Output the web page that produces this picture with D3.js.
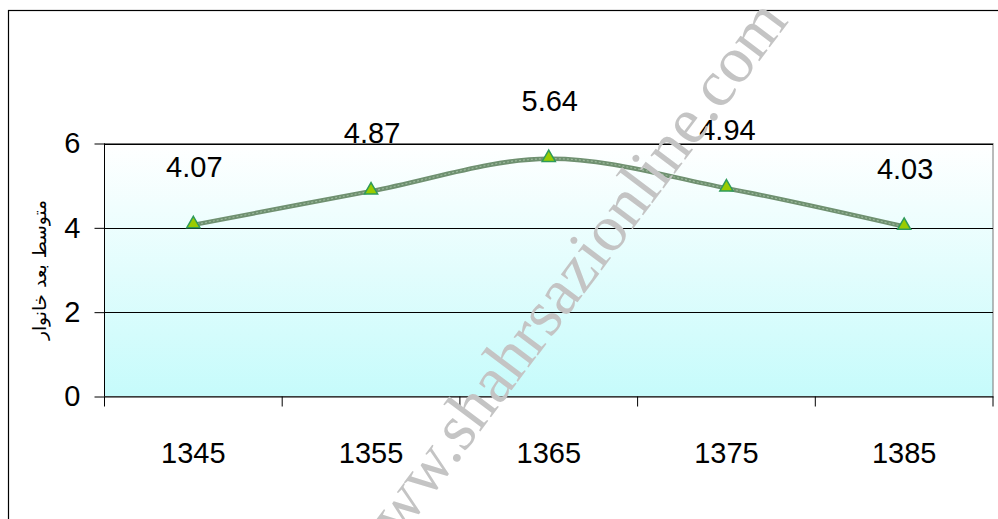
<!DOCTYPE html>
<html><head><meta charset="utf-8">
<script src="https://cdn.jsdelivr.net/npm/d3@7"></script>
<style>
html,body{margin:0;padding:0;background:#fff;overflow:hidden}
svg{display:block}
</style></head>
<body>
<script>
// ---- data ----
const categories = ["1345", "1355", "1365", "1375", "1385"];
const values = [4.07, 4.87, 5.64, 4.94, 4.03];
const valueLabels = ["4.07", "4.87", "5.64", "4.94", "4.03"];
const yTicks = [0, 2, 4, 6];
const yTitle = "متوسط بعد خانوار";
const watermark = "www.shahrsazionline.com";

const W = 998, H = 519;
const svg = d3.select("body").append("svg").attr("width", W).attr("height", H);
const font = "'Liberation Sans Narrow','Arial Narrow','Liberation Sans',sans-serif";

// chart frame
svg.append("rect").attr("x", 8.5).attr("y", 10.5).attr("width", 1000).attr("height", 520)
  .attr("fill", "#fff").attr("stroke", "#000").attr("stroke-width", 1.2);

const plot = {left: 104.5, right: 993, top: 143.5, bottom: 396.5};
const x = d3.scaleBand().domain(categories).range([plot.left, plot.right]).padding(0);
const y = d3.scaleLinear().domain([0, 6]).range([plot.bottom, plot.top]);

// gradient background
const defs = svg.append("defs");
const grad = defs.append("linearGradient").attr("id", "bg").attr("x1", 0).attr("y1", 0).attr("x2", 0).attr("y2", 1);
grad.append("stop").attr("offset", "0%").attr("stop-color", "#ffffff");
grad.append("stop").attr("offset", "100%").attr("stop-color", "#c6fbfb");
svg.append("rect").attr("x", plot.left).attr("y", plot.top)
  .attr("width", plot.right - plot.left).attr("height", plot.bottom - plot.top)
  .attr("fill", "url(#bg)").attr("stroke", "#777").attr("stroke-width", 1);

// gridlines
svg.append("g").selectAll("line").data(yTicks.filter(d => d > 0)).join("line")
  .attr("x1", plot.left).attr("x2", plot.right)
  .attr("y1", d => Math.round(y(d)) + 0.5).attr("y2", d => Math.round(y(d)) + 0.5)
  .attr("stroke", "#000").attr("stroke-width", 1);

// y axis
const yAxis = svg.append("g").attr("transform", `translate(${plot.left},0)`)
  .call(d3.axisLeft(y).tickValues(yTicks).tickSize(10).tickPadding(14).tickFormat(d3.format("d")));
yAxis.select(".domain").attr("stroke", "#000").attr("d", `M0,${plot.top}V${plot.bottom}`);
yAxis.selectAll(".tick line").attr("stroke", "#000");
yAxis.selectAll(".tick text").attr("font-family", font).attr("font-size", 29).attr("fill", "#000");

// x axis
const xAxis = svg.append("g").attr("transform", `translate(0,${plot.bottom})`)
  .call(d3.axisBottom(x).tickSize(0).tickPadding(46));
xAxis.select(".domain").attr("stroke", "#000");
xAxis.selectAll(".tick text").attr("font-family", font).attr("font-size", 29).attr("fill", "#000");
// category boundary ticks
const bounds = categories.map(c => x(c)).concat([plot.right]);
svg.append("g").selectAll("line").data(bounds).join("line")
  .attr("x1", d => d).attr("x2", d => d)
  .attr("y1", plot.bottom).attr("y2", plot.bottom + 10)
  .attr("stroke", "#000").attr("stroke-width", 1);

// y title
svg.append("text")
  .attr("transform", `translate(46,${(plot.top + plot.bottom) / 2}) rotate(-90)`)
  .attr("text-anchor", "middle").attr("font-family", "'DejaVu Sans',sans-serif")
  .attr("font-size", 18).attr("fill", "#000").attr("direction", "rtl")
  .attr("textLength", 140).attr("lengthAdjust", "spacingAndGlyphs").text(yTitle);

// line
const pts = values.map((v, i) => [x(categories[i]) + x.bandwidth() / 2, y(v)]);
const line = d3.line().curve(d3.curveCatmullRom.alpha(0.5));
svg.append("path").attr("d", line(pts)).attr("fill", "none")
  .attr("stroke", "#6f9070").attr("stroke-width", 4.5).attr("stroke-linecap", "round");
svg.append("path").attr("d", line(pts)).attr("fill", "none")
  .attr("stroke", "#9ab89a").attr("stroke-width", 1.2).attr("stroke-dasharray", "2,2");

// markers
const tri = d3.symbol().type(d3.symbolTriangle).size(75);
svg.append("g").selectAll("path").data(pts).join("path")
  .attr("transform", d => `translate(${d[0]},${d[1] - 1})`)
  .attr("d", tri()).attr("fill", "#99cc00").attr("stroke", "#2f9a5a").attr("stroke-width", 1.5);

// data labels
svg.append("g").selectAll("text").data(pts).join("text")
  .attr("x", d => d[0] + 1).attr("y", d => d[1] - 48)
  .attr("text-anchor", "middle").attr("font-family", font).attr("font-size", 29)
  .attr("fill", "#000")
  .text((d, i) => valueLabels[i]);

// watermark
svg.append("text")
  .attr("transform", "translate(568,290) rotate(-53)")
  .attr("text-anchor", "middle").attr("dominant-baseline", "middle")
  .attr("font-family", "'Liberation Serif','DejaVu Serif',serif")
  .attr("font-size", 66).attr("fill", "#c4c4c4")
  .text(watermark);
</script>
</body></html>
